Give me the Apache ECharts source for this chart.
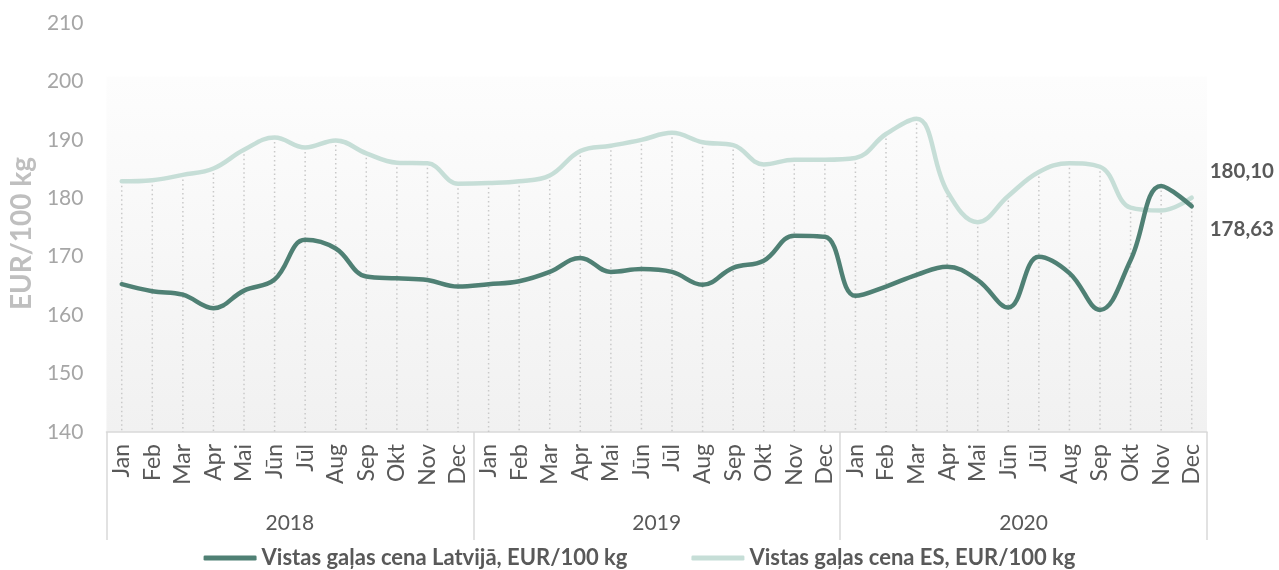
<!DOCTYPE html>
<html>
<head>
<meta charset="utf-8">
<script src="https://cdn.jsdelivr.net/npm/echarts@6/dist/echarts.min.js"></script>
<style>
  html, body { margin: 0; padding: 0; background: #ffffff; }
  #chart { width: 1279px; height: 570px; }
</style>
</head>
<body>
<div id="chart"></div>
<script>
// Monthly broiler meat prices, EUR/100 kg
const years = ['2018', '2019', '2020'];
const monthNames = ['Jan', 'Feb', 'Mar', 'Apr', 'Mai', 'Jūn', 'Jūl', 'Aug', 'Sep', 'Okt', 'Nov', 'Dec'];
const yTicks = [140, 150, 160, 170, 180, 190, 200, 210];

const latvia = [
  165.3, 164.1, 163.5, 161.2, 164.2, 166.1, 172.9, 171.4, 166.6, 166.3, 166.0, 164.9,
  165.3, 165.8, 167.4, 169.8, 167.4, 167.9, 167.4, 165.2, 168.1, 169.3, 173.6, 173.4,
  163.3, 164.9, 166.9, 168.3, 166.0, 161.3, 170.0, 167.2, 160.9, 169.4, 182.1, 178.63
];
const eu = [
  182.9, 183.1, 184.0, 185.1, 188.3, 190.4, 188.7, 189.9, 187.7, 186.1, 186.0, 182.5,
  182.6, 182.9, 183.9, 188.1, 189.0, 190.0, 191.2, 189.6, 189.1, 185.8, 186.6, 186.6,
  186.9, 191.0, 193.6, 181.2, 175.9, 180.4, 184.5, 186.0, 185.4, 178.4, 177.9, 180.10
];

const seriesNames = ['Vistas gaļas cena Latvijā, EUR/100 kg', 'Vistas gaļas cena ES, EUR/100 kg'];
const colors = ['#4f8074', '#c6ded7'];

const categories = [];
years.forEach(y => monthNames.forEach(m => categories.push(m + ' ' + y)));
const dropTops = categories.map((_, i) => [i, Math.max(latvia[i], eu[i])]);

const fontFamily = 'Lato, "Open Sans", sans-serif';
const fmt = v => v.toFixed(2).replace('.', ',');

const chart = echarts.init(document.getElementById('chart'), null, { renderer: 'canvas' });

chart.setOption({
  animation: false,
  textStyle: { fontFamily },
  grid: {
    left: 104, right: 72, top: 23, bottom: 138,
    show: true, borderWidth: 0,
    backgroundColor: new echarts.graphic.LinearGradient(0, 0, 0, 1, [
      { offset: 0, color: '#ffffff' },
      { offset: 0.13, color: '#ffffff' },
      { offset: 0.132, color: '#fdfdfd' },
      { offset: 1, color: '#f1f1f1' }
    ])
  },
  legend: {
    data: seriesNames,
    bottom: 1,
    left: 'center',
    padding: [0, 5, 0, 5],
    itemWidth: 53,
    itemHeight: 5,
    itemGap: 64,
    icon: 'roundRect',
    textStyle: { color: '#595959', fontSize: 22, fontWeight: 'bold', fontFamily }
  },
  xAxis: [
    {
      type: 'category',
      data: categories,
      boundaryGap: true,
      axisLine: { lineStyle: { color: '#d9d9d9', width: 1.5 } },
      axisTick: { show: false },
      axisLabel: {
        interval: 0, rotate: 90, margin: 12,
        color: '#595959', fontSize: 23, fontFamily,
        formatter: v => v.split(' ')[0]
      },
      splitLine: { show: false }
    },
    {
      type: 'category',
      data: years,
      position: 'bottom',
      boundaryGap: true,
      axisLine: { show: false },
      axisTick: { show: true, length: 108, lineStyle: { color: '#d9d9d9', width: 1.5 } },
      axisLabel: { margin: 81, color: '#595959', fontSize: 21, fontFamily },
      splitLine: { show: false }
    }
  ],
  yAxis: {
    type: 'value',
    min: yTicks[0],
    max: yTicks[yTicks.length - 1],
    interval: 10,
    axisLine: { show: false },
    axisTick: { show: false },
    splitLine: { show: false },
    axisLabel: { color: '#a6a6a6', fontSize: 21, margin: 23, fontFamily },
    name: 'EUR/100 kg',
    nameLocation: 'middle',
    nameRotate: 90,
    nameGap: 60,
    nameTextStyle: { color: '#bfbfbf', fontSize: 28, fontWeight: 'bold', fontFamily, padding: [0, 12, 0, 0] }
  },
  series: [
    {
      // dotted drop lines from the higher price down to the axis
      type: 'custom',
      xAxisIndex: 0,
      silent: true,
      z: 1,
      data: dropTops,
      renderItem: (params, api) => {
        const top = api.coord([api.value(0), api.value(1)]);
        const bottom = api.coord([api.value(0), yTicks[0]]);
        return {
          type: 'line',
          shape: { x1: top[0], y1: top[1], x2: bottom[0], y2: bottom[1] },
          style: { stroke: '#c9c9c9', lineWidth: 1.5, lineDash: [1.5, 3] }
        };
      }
    },
    {
      name: seriesNames[1],
      type: 'line',
      data: eu,
      smooth: 0.4,
      symbol: 'none',
      z: 3,
      lineStyle: { color: colors[1], width: 4.5, cap: 'round' },
      itemStyle: { color: colors[1] },
      endLabel: {
        show: true, formatter: p => fmt(p.value), offset: [10, -26],
        color: '#595959', fontSize: 20.5, fontWeight: 'bold', fontFamily
      }
    },
    {
      name: seriesNames[0],
      type: 'line',
      data: latvia,
      smooth: 0.4,
      symbol: 'none',
      z: 4,
      lineStyle: { color: colors[0], width: 4.5, cap: 'round' },
      itemStyle: { color: colors[0] },
      endLabel: {
        show: true, formatter: p => fmt(p.value), offset: [10, 23],
        color: '#595959', fontSize: 20.5, fontWeight: 'bold', fontFamily
      }
    }
  ]
});
</script>
</body>
</html>
